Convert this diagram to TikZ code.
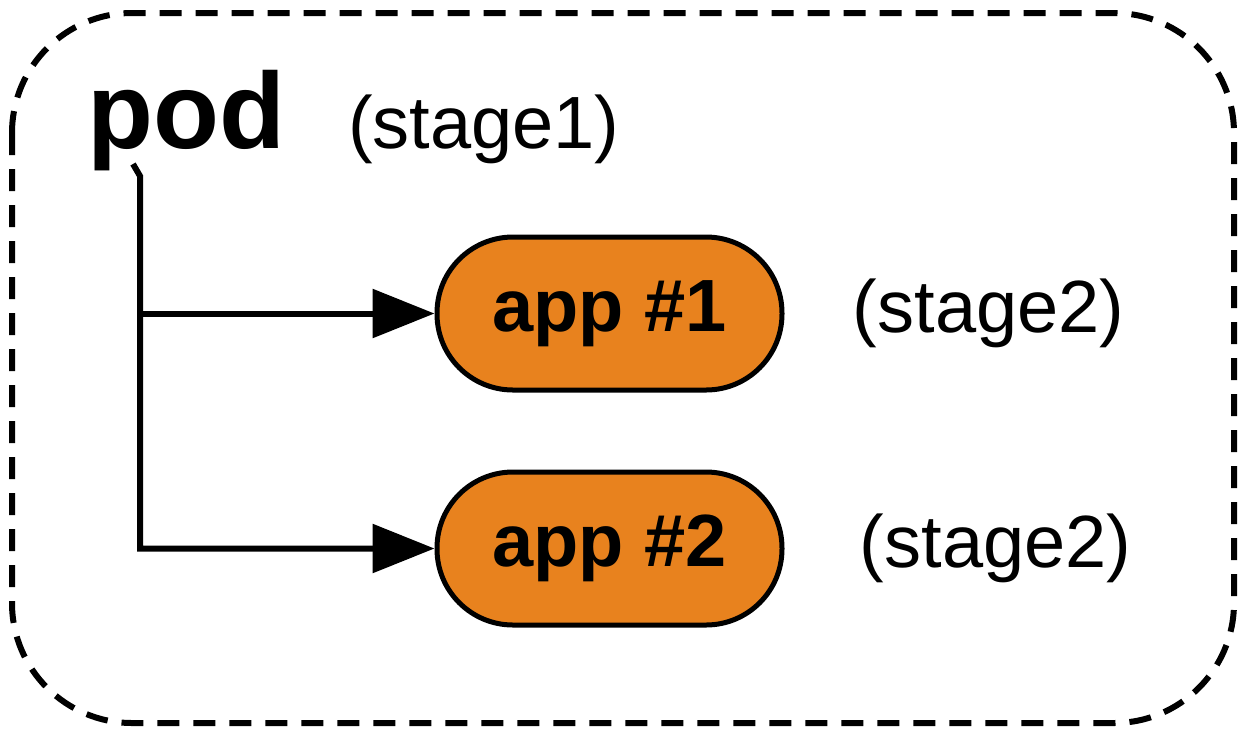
\documentclass[tikz,border=0pt]{standalone}
\usepackage{fontspec}
\setmainfont{Liberation Sans}
\usepackage{xcolor}
\usetikzlibrary{arrows.meta,positioning}
\definecolor{apporange}{HTML}{E8821E}

\begin{document}
\begin{tikzpicture}[
  x=0.5pt, y=-0.5pt,
  frame/.style={draw, line width=3pt, dash pattern=on 11pt off 7pt, rounded corners=60pt},
  app/.style={draw, line width=2.5pt, fill=apporange, rounded corners=38pt, minimum width=172.5pt, minimum height=76.5pt, font=\fontsize{37}{44}\selectfont\bfseries},
  stage/.style={inner sep=0pt, font=\fontsize{37}{44}\selectfont},
  arrow/.style={-{Triangle[length=31pt, width=24pt]}, line width=3pt}
]
\useasboundingbox (0,0) rectangle (1244,736);
\draw[frame] (12,13) rectangle (1234,723);
\node[inner sep=0pt, anchor=base west, font=\fontsize{54}{60}\selectfont\bfseries] (pod) at (87,148) {pod};
\node[stage, base right=31pt of pod] (s1) {(stage1)};
\node[app] (app1) at (609.5,313.5) {app \#1};
\node[app, below=38.5pt of app1] (app2) {app \#2};
\node[stage, right=34pt of app1] (s2a) {(stage2)};
\node[stage, right=37.5pt of app2] (s2b) {(stage2)};
% wires from pod to the apps
\coordinate (stub) at (133,164);
\coordinate (bend) at (140,176);
\draw[arrow, line join=miter] (stub) -- (bend) |- (app2.west);
\draw[arrow] (bend |- app1.west) -- (app1.west);
\end{tikzpicture}
\end{document}
